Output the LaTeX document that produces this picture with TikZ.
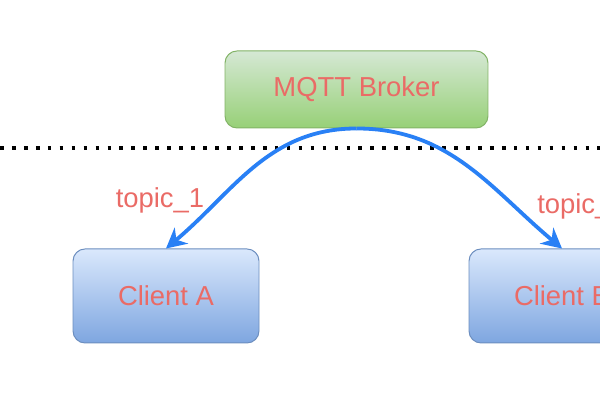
\documentclass[tikz,border=0pt]{standalone}
\usepackage{fontspec}
\setmainfont{Liberation Sans}
\usetikzlibrary{arrows.meta}
\usepackage{xcolor}

\definecolor{labelred}{HTML}{EA6B66}
\definecolor{greentop}{HTML}{D5E8D4}
\definecolor{greenbot}{HTML}{97D077}
\definecolor{greenline}{HTML}{82B366}
\definecolor{bluetop}{HTML}{DAE8FC}
\definecolor{bluebot}{HTML}{7EA6E0}
\definecolor{blueline}{HTML}{6C8EBF}
\definecolor{arrowblue}{RGB}{41,128,245}

\tikzset{
	box/.style={rectangle,rounded corners=0.3cm,line width=0.7pt,inner sep=0pt,
		text=labelred,font=\fontsize{19.5}{23}\selectfont},
	brokerbox/.style={box,draw=greenline,top color=greentop,bottom color=greenbot,
		minimum width=6.575cm,minimum height=1.925cm},
	clientbox/.style={box,draw=blueline,top color=bluetop,bottom color=bluebot,
		minimum width=4.65cm,minimum height=2.35cm},
	topic/.style={text=labelred,font=\fontsize{19.5}{23}\selectfont,inner sep=0pt},
	sub/.style={-{Stealth[length=5mm,width=5.2mm,inset=1.6mm]},arrowblue,line width=2.7pt}
}

\begin{document}
\begin{tikzpicture}
		\clip (0,0) rectangle (15,10);
		\node [brokerbox] (broker) at (8.9125, 7.7625) {MQTT Broker};
		\node [clientbox] (clientA) at (4.15, 2.6) {Client A};
		\node [clientbox] (clientB) at (14.05, 2.6) {Client B};
		\draw [line width=2.6pt,dash pattern=on 2.6pt off 5.9pt] (0, 6.3) -- (15, 6.3);
		\draw [sub,out=180,in=40] (broker.south) to (clientA.north);
		\draw [sub,out=0,in=140] (broker.south) to (clientB.north);
		\node [topic] (topicA) at (4.0, 5.0) {topic\_1};
		\node [topic,anchor=west] (topicB) at (13.425, 4.85) {topic\_2};
\end{tikzpicture}
\end{document}
